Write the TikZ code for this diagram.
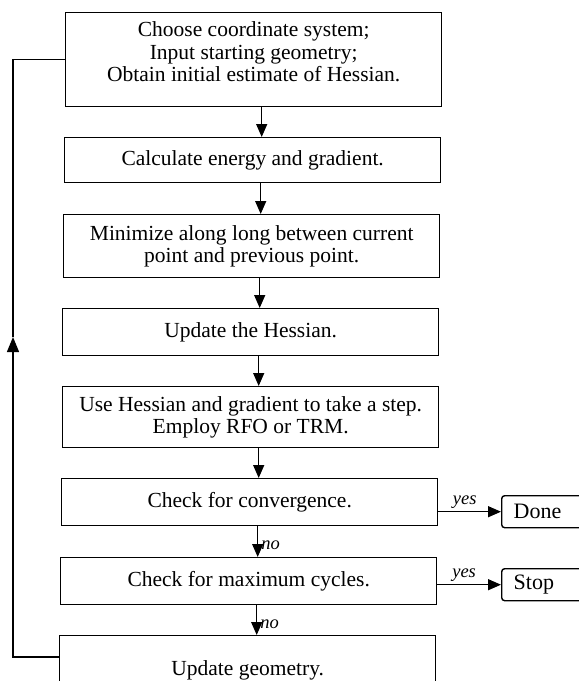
\documentclass[tikz,border=0pt]{standalone}
\usepackage{fontspec}
\setmainfont{Liberation Serif}
\usetikzlibrary{arrows.meta,calc}
\begin{document}
\begin{tikzpicture}[x=1pt,y=-1pt,
  box/.style={draw, line width=1.4pt, align=center, minimum width=376pt, inner sep=0pt,
    font=\fontsize{21.5}{22.5}\selectfont, anchor=north west},
  endbox/.style={draw, line width=1.4pt, rounded corners=3pt, anchor=north west, align=left,
    text width=110pt, inner xsep=12pt, inner ysep=0pt, minimum height=32pt,
    font=\fontsize{22}{24}\selectfont},
  arr/.style={line width=1.3pt, -{Triangle[length=13pt,width=11pt]}},
  uparr/.style={line width=1.3pt, -{Triangle[length=15pt,width=12pt]}},
  lin/.style={line width=1.3pt},
  lbl/.style={font=\fontsize{18.5}{20}\selectfont\itshape, inner sep=1pt}]
\useasboundingbox (0,0) rectangle (579,681);
\node[box, minimum height=94pt] (b1) at (65,12) {\raisebox{5pt}[\height][\depth]{\begin{tabular}{@{}c@{}}Choose coordinate system;\\Input starting geometry;\\Obtain initial estimate of Hessian.\end{tabular}}};
\node[box, minimum height=45pt] (b2) at (64,137) {Calculate energy and gradient.};
\node[box, minimum height=63pt] (b3) at (63,214) {Minimize along long between current\\point and previous point.};
\node[box, minimum height=47pt] (b4) at (62,308) {Update the Hessian.};
\node[box, minimum height=61pt] (b5) at (62,386) {Use Hessian and gradient to take a step.\\Employ RFO or TRM.};
\node[box, minimum height=47pt] (b6) at (61,478) {Check for convergence.};
\node[box, minimum height=47pt] (b7) at (60,557) {Check for maximum cycles.};
\node[box, minimum height=70pt] (b8) at (59,635) {Update geometry.};
\node[endbox] (done) at (501,495) {Done};
\node[endbox] (stop) at (501,568) {Stop};
\foreach \a in {b1,b2,b3,b4,b5,b6,b7}{
  \coordinate (\a s) at ($(\a.south)+(8,0)$);
}
\draw[arr] (b1s) -- (b1s |- b2.north);
\draw[arr] (b2s) -- (b2s |- b3.north);
\draw[arr] (b3s) -- (b3s |- b4.north);
\draw[arr] (b4s) -- (b4s |- b5.north);
\draw[arr] (b5s) -- (b5s |- b6.north);
\draw[arr] (b6s) -- node[lbl, right, pos=0.62, xshift=2pt] {no} (b6s |- b7.north);
\draw[arr] (b7s) -- node[lbl, right, pos=0.62, xshift=2pt] {no} (b7s |- b8.north);
\draw[arr] (b6.east |- done.west) -- node[lbl, above, pos=0.42, yshift=2pt] {yes} (done.west);
\draw[arr] (b7.east |- stop.west) -- node[lbl, above, pos=0.42, yshift=2pt] {yes} (stop.west);
\coordinate (j8) at ($(b8.north west)+(0,22)$);
\coordinate (fx) at (13,0);
\coordinate (fmid) at (13,337);
\draw[uparr] (j8) -- (j8 -| fx) -- (fmid);
\draw[lin] (fmid) -- (b1.west -| fx) -- (b1.west);
\end{tikzpicture}
\end{document}
